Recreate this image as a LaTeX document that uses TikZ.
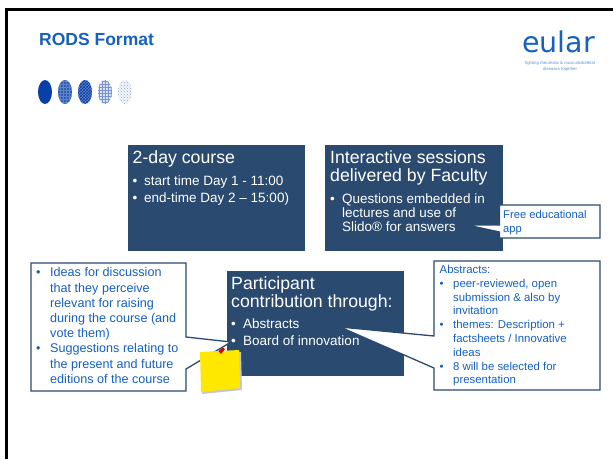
\documentclass[tikz,border=0pt]{standalone}
\usepackage{fontspec}
\setmainfont{Liberation Sans}
\newfontfamily\logofont{DejaVu Sans}
\usetikzlibrary{patterns,shapes.geometric}
\definecolor{navy}{HTML}{2A4A70}
\definecolor{txtblue}{HTML}{1660BE}
\definecolor{dotblue}{HTML}{0A3FA8}
\definecolor{notey}{HTML}{FFE800}
\newcommand{\bl}[1]{\makebox[#1][l]{•}}
\newcommand{\ind}[1]{\makebox[#1][l]{}}
\tikzset{
  x=1pt,y=-1pt,
  darkbox/.style={fill=navy,draw=none},
  callout/.style={fill=white,draw=navy,line width=1.3pt,line join=miter},
  head/.style={anchor=north west,text=white,font=\fontsize{17.7}{17.7}\selectfont,inner sep=0pt,align=left},
  wbody/.style={anchor=north west,text=white,font=\fontsize{13.5}{14}\selectfont,inner sep=0pt,align=left},
  btxt/.style={anchor=north west,text=txtblue,inner sep=0pt,align=left},
  ovaldot/.style={draw=none,minimum width=14pt,minimum height=24pt,inner sep=0pt,shape=ellipse},
}
\begin{document}
\begin{tikzpicture}
\useasboundingbox (0,0) rectangle (613,459);
\fill[white] (0,0) rectangle (613,459);
\draw[black,line width=2.5pt] (6.5,459) -- (6.5,9.5) -- (613,9.5);
\node[anchor=west,inner sep=0pt,text=txtblue,font=\bfseries\fontsize{17.5}{17.5}\selectfont] (title) at (39,39.5) {RODS Format};
\node[anchor=base west,inner sep=0pt,text=txtblue,font=\logofont\fontsize{28.5}{28.5}\selectfont] (logo) at (522,52) {eular};
\node[anchor=center,inner sep=0pt,text=txtblue!70,align=center,font=\fontsize{4.3}{6}\selectfont] (tag) at (560,66) {fighting rheumatic \& musculoskeletal\\diseases together};
\node[ovaldot,fill=dotblue] (d1) at (45,92) {};
\node[ovaldot,fill=dotblue!85,postaction={pattern=grid,pattern color=white!35!dotblue}] (d2) at (65,92) {};
\node[ovaldot,fill=dotblue!65,postaction={pattern=crosshatch,pattern color=dotblue}] (d3) at (85,92) {};
\node[ovaldot,fill=dotblue!15,postaction={pattern=grid,pattern color=dotblue!55}] (d4) at (105,92) {};
\node[ovaldot,fill=dotblue!4,postaction={pattern=crosshatch dots,pattern color=dotblue!50}] (d5) at (125,92) {};
% dark boxes
\fill[darkbox] (128,145) rectangle (305,251);
\fill[darkbox] (325,145) rectangle (503,251);
\fill[darkbox] (227,271) rectangle (404,376);
% callouts
\draw[callout] (499.5,205) -- (600,205) -- (600,238) -- (499.5,238) -- (499.5,232) -- (467,225) -- (499.5,225) -- cycle;
\draw[callout] (434,261) -- (600,261) -- (600,390) -- (434,390) -- (434,368) -- (340,327) -- (434,336) -- cycle;
\draw[callout] (31,263) -- (186,263) -- (186,337) -- (231,342) -- (186,369) -- (186,391) -- (31,391) -- cycle;
% texts in dark boxes
\node[head] (h1) at (132.5,150.5) {2-day course};
\node[wbody,font=\fontsize{13.5}{16.2}\selectfont] (b1) at (132.5,176) {\bl{11.5pt}start time Day 1 - 11:00\\\bl{11.5pt}end-time Day 2 – 15:00)};
\node[head] (h2) at (330,150.5) {Interactive sessions\\delivered by Faculty};
\node[wbody] (b2) at (330,194) {\bl{12pt}Questions embedded in\\\ind{12pt}lectures and use of\\\ind{12pt}Slido® for answers};
\node[head] (h3) at (231,276.5) {Participant\\contribution through:};
\node[wbody,font=\fontsize{13.5}{17}\selectfont] (b3) at (231,319) {\bl{12pt}Abstracts\\\bl{12pt}Board of innovation};
% callout texts
\node[btxt,font=\fontsize{11.2}{14}\selectfont] (c1) at (503,210) {Free educational\\app};
\node[btxt,font=\fontsize{11.4}{13.8}\selectfont] (c2) at (439.5,265) {Abstracts:\\\bl{13.5pt}peer-reviewed, open\\\ind{13.5pt}submission \& also by\\\ind{13.5pt}invitation\\\bl{13.5pt}themes: Description +\\\ind{13.5pt}factsheets / Innovative\\\ind{13.5pt}ideas\\\bl{13.5pt}8 will be selected for\\\ind{13.5pt}presentation};
\node[btxt,font=\fontsize{12.6}{15.2}\selectfont] (c3) at (36,267.5) {\bl{14pt}Ideas for discussion\\\ind{14pt}that they perceive\\\ind{14pt}relevant for raising\\\ind{14pt}during the course (and\\\ind{14pt}vote them)\\\bl{14pt}Suggestions relating to\\\ind{14pt}the present and future\\\ind{14pt}editions of the course};
% note
\fill[black!22] (202,354) -- (241,352) -- (242,390) -- (202,394) -- cycle;
\fill[notey] (200,352) -- (239,350) -- (240,388) -- (201,392) -- cycle;
\fill[red!85!black] (218.5,351) -- (223,347.5) -- (225,349) -- (221,354) -- cycle;
\end{tikzpicture}
\end{document}
